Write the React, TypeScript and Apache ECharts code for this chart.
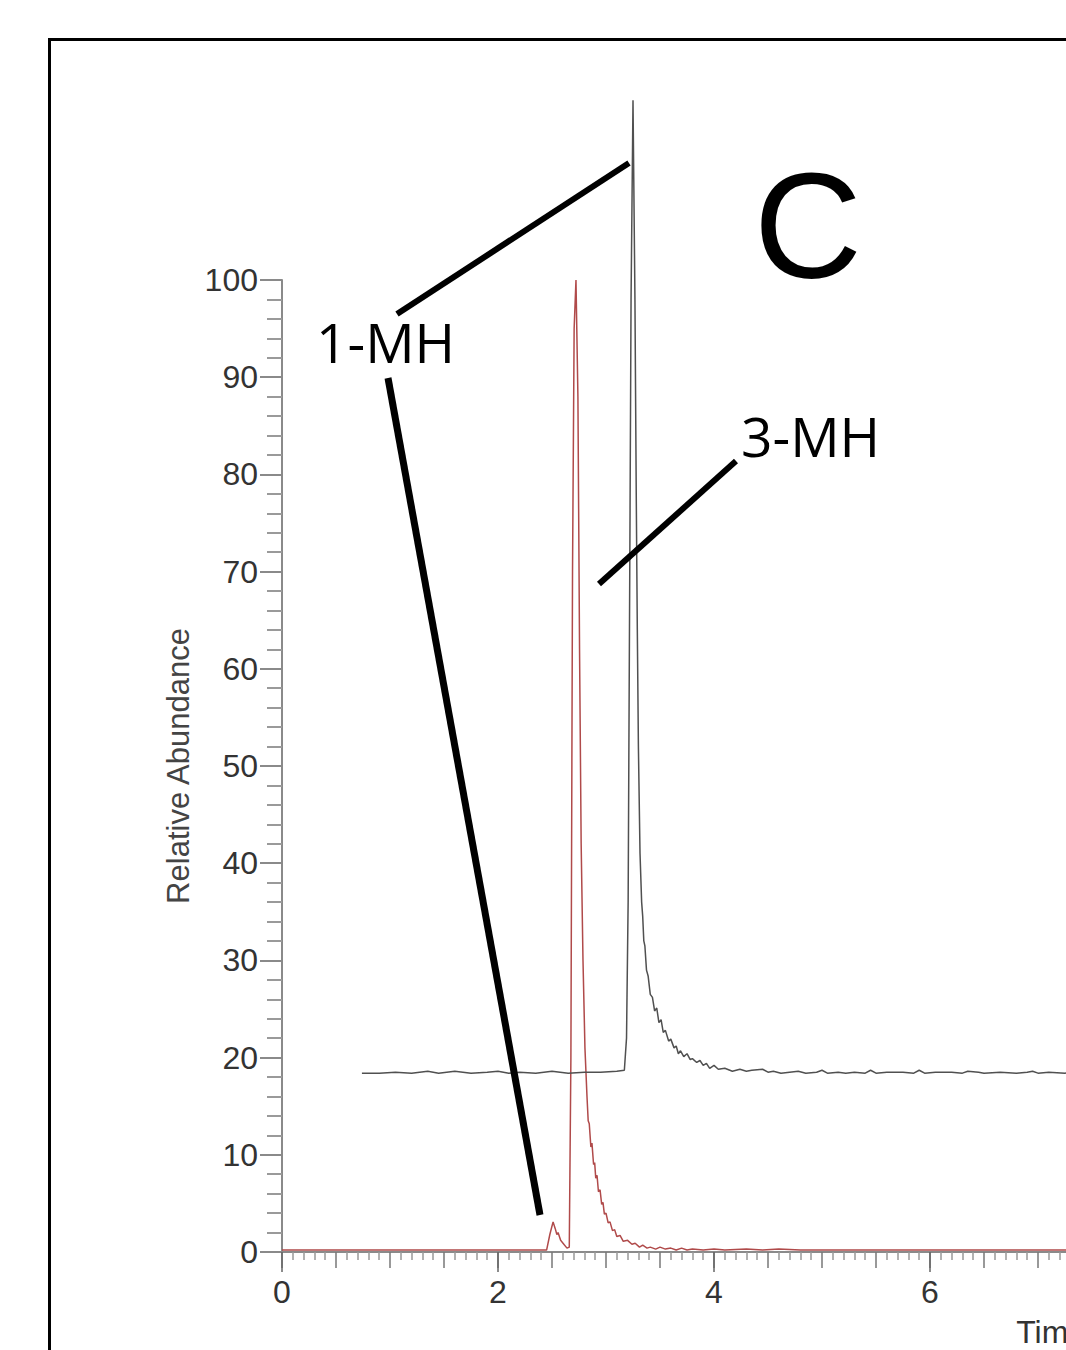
import React, { useEffect, useRef } from "react";
import * as echarts from "echarts";

// 1-MH trace (offset chromatogram): [time (min), relative abundance]
const mh1Trace: [number, number][] = [
  [0.74, 18.4], [0.9, 18.4], [1.05, 18.5], [1.2, 18.4], [1.35, 18.6], [1.45, 18.4],
  [1.6, 18.6], [1.75, 18.4], [1.9, 18.5], [2.0, 18.6], [2.1, 18.4], [2.2, 18.5],
  [2.35, 18.4], [2.5, 18.6], [2.65, 18.4], [2.8, 18.5], [2.95, 18.5], [3.1, 18.6],
  [3.17, 18.7], [3.19, 22], [3.205, 36], [3.22, 70], [3.232, 98], [3.25, 118.5],
  [3.268, 98], [3.28, 78], [3.29, 64], [3.3, 52], [3.315, 41], [3.33, 36],
  [3.34, 34.5], [3.35, 32], [3.36, 31.5], [3.375, 29], [3.39, 28.4], [3.41, 26.5],
  [3.43, 26.2], [3.45, 24.8], [3.47, 25.1], [3.49, 23.6], [3.51, 23.9], [3.53, 22.6],
  [3.55, 22.8], [3.58, 21.7], [3.6, 21.9], [3.63, 21.0], [3.65, 21.2], [3.67, 20.4],
  [3.69, 20.7], [3.72, 20.1], [3.75, 20.4], [3.78, 19.8], [3.8, 19.9], [3.84, 19.5],
  [3.87, 19.7], [3.9, 19.2], [3.93, 19.4], [3.96, 18.9], [4.0, 19.2], [4.04, 18.8],
  [4.1, 18.9], [4.17, 18.6], [4.24, 18.8], [4.3, 18.6], [4.35, 18.7], [4.45, 18.8],
  [4.5, 18.5], [4.55, 18.6], [4.62, 18.4], [4.7, 18.5], [4.78, 18.6], [4.85, 18.4],
  [4.95, 18.5], [5.0, 18.7], [5.05, 18.4], [5.15, 18.5], [5.22, 18.4], [5.3, 18.5],
  [5.4, 18.4], [5.45, 18.7], [5.5, 18.4], [5.6, 18.5], [5.75, 18.5], [5.85, 18.4],
  [5.9, 18.7], [5.95, 18.4], [6.05, 18.5], [6.2, 18.5], [6.3, 18.4], [6.35, 18.6],
  [6.45, 18.5], [6.5, 18.4], [6.65, 18.5], [6.8, 18.4], [6.9, 18.5], [6.95, 18.6],
  [7.0, 18.4], [7.1, 18.5], [7.25, 18.4], [7.4, 18.5], [7.6, 18.5],
];

// 3-MH trace: [time (min), relative abundance]
const mh3Trace: [number, number][] = [
  [0, 0.2], [0.3, 0.2], [0.6, 0.2], [0.9, 0.2], [1.2, 0.2], [1.5, 0.2], [1.8, 0.2],
  [2.1, 0.2], [2.3, 0.2], [2.45, 0.2], [2.48, 1.8], [2.51, 3.1], [2.53, 2.4],
  [2.545, 1.8], [2.556, 2.0], [2.58, 1.2], [2.602, 0.9], [2.639, 0.4], [2.66, 0.5],
  [2.675, 20], [2.69, 70], [2.705, 95], [2.722, 100], [2.74, 88], [2.755, 62],
  [2.77, 42], [2.787, 30], [2.805, 21], [2.824, 16], [2.835, 13.5], [2.845, 13.2],
  [2.86, 10.8], [2.87, 11.2], [2.885, 9.0], [2.895, 9.2], [2.905, 7.6], [2.917, 7.9],
  [2.93, 6.2], [2.945, 6.4], [2.96, 4.9], [2.972, 5.1], [2.985, 3.9], [3.0, 4.0],
  [3.02, 3.0], [3.037, 3.1], [3.06, 2.2], [3.08, 2.3], [3.1, 1.6], [3.13, 1.7],
  [3.16, 1.1], [3.2, 1.2], [3.24, 0.8], [3.27, 0.9], [3.31, 0.5], [3.34, 0.7],
  [3.38, 0.4], [3.41, 0.5], [3.46, 0.3], [3.5, 0.5], [3.55, 0.3], [3.6, 0.4],
  [3.65, 0.2], [3.7, 0.4], [3.75, 0.2], [3.8, 0.3], [3.9, 0.2], [4.0, 0.3],
  [4.1, 0.2], [4.3, 0.3], [4.45, 0.2], [4.6, 0.3], [4.8, 0.2], [5.0, 0.2],
  [5.5, 0.2], [6.0, 0.2], [6.5, 0.2], [7.0, 0.2], [7.6, 0.2],
];

const xMin = 0;
const xMax = 15;
const yMin = 0;
const yMax = 100;

const axisFont = "'Liberation Sans', Arial, sans-serif";
const labelFont = "'Open Sans', 'Noto Sans', sans-serif";

export default function App() {
  const ref = useRef<HTMLDivElement>(null);

  useEffect(() => {
    if (!ref.current) return;
    const chart = echarts.init(ref.current, undefined, { renderer: "svg" });
    const gray = "#8a8a8a";
    chart.setOption({
      animation: false,
      backgroundColor: "#ffffff",
      grid: {
        left: 282,
        top: 280,
        bottom: 98,
        right: -836,
        containLabel: false,
        outerBoundsMode: "none",
      },
      xAxis: [
        {
          type: "value",
          min: xMin,
          max: xMax,
          interval: 0.5,
          position: "bottom",
          axisLine: { show: true, lineStyle: { color: gray, width: 2 } },
          axisTick: { show: true, length: 16, lineStyle: { color: "#777", width: 1.5 } },
          minorTick: { show: true, splitNumber: 5, length: 8, lineStyle: { color: "#999", width: 1.5 } },
          axisLabel: { show: false },
          splitLine: { show: false },
        },
        {
          type: "value",
          min: xMin,
          max: xMax,
          interval: 2,
          position: "bottom",
          axisLine: { show: false },
          axisTick: { show: true, length: 20, lineStyle: { color: "#666", width: 1.5 } },
          axisLabel: { show: true, fontSize: 32, fontFamily: axisFont, color: "#333", margin: 24 },
          splitLine: { show: false },
          name: "Time (min)",
          nameLocation: "middle",
          nameGap: 64,
          nameTextStyle: { fontSize: 32, fontFamily: axisFont, color: "#333" },
        },
      ],
      yAxis: {
        type: "value",
        min: yMin,
        max: yMax,
        interval: 10,
        axisLine: { show: true, lineStyle: { color: gray, width: 2 } },
        axisTick: { show: true, length: 22, lineStyle: { color: gray, width: 2 } },
        minorTick: { show: true, splitNumber: 5, length: 15, lineStyle: { color: "#9a9a9a", width: 2 } },
        axisLabel: { show: true, fontSize: 32, fontFamily: axisFont, color: "#333", margin: 24 },
        splitLine: { show: false },
        name: "Relative Abundance",
        nameLocation: "middle",
        nameRotate: 90,
        nameGap: 84,
        nameTextStyle: { fontSize: 31, fontFamily: axisFont, color: "#444" },
      },
      series: [
        {
          type: "line",
          name: "3-MH",
          data: mh3Trace,
          xAxisIndex: 0,
          showSymbol: false,
          symbol: "none",
          clip: false,
          lineStyle: { color: "#b04a4a", width: 1.5 },
          z: 2,
        },
        {
          type: "line",
          name: "1-MH",
          data: mh1Trace,
          xAxisIndex: 0,
          showSymbol: false,
          symbol: "none",
          clip: false,
          lineStyle: { color: "#505050", width: 1.5 },
          z: 3,
        },
      ],
      graphic: [
        {
          type: "rect",
          shape: { x: 49.5, y: 39.5, width: 1200, height: 1400 },
          style: { fill: "none", stroke: "#000", lineWidth: 3 },
          z: 10,
        },
        {
          type: "line",
          shape: { x1: 397, y1: 314, x2: 629, y2: 163 },
          style: { stroke: "#000", lineWidth: 6 },
          z: 10,
        },
        {
          type: "line",
          shape: { x1: 388, y1: 378, x2: 540, y2: 1215 },
          style: { stroke: "#000", lineWidth: 7 },
          z: 10,
        },
        {
          type: "line",
          shape: { x1: 736, y1: 461, x2: 599, y2: 584 },
          style: { stroke: "#000", lineWidth: 6 },
          z: 10,
        },
        {
          type: "text",
          x: 316,
          y: 341,
          style: {
            text: "1-MH",
            fontSize: 55,
            fontFamily: labelFont,
            fill: "#000",
            textAlign: "left",
            textVerticalAlign: "middle",
          },
          z: 10,
        },
        {
          type: "text",
          x: 741,
          y: 435,
          style: {
            text: "3-MH",
            fontSize: 55,
            fontFamily: labelFont,
            fill: "#000",
            textAlign: "left",
            textVerticalAlign: "middle",
          },
          z: 10,
        },
        {
          type: "text",
          x: 808,
          y: 226,
          style: {
            text: "C",
            fontSize: 150,
            fontFamily: axisFont,
            fill: "#000",
            textAlign: "center",
            textVerticalAlign: "middle",
          },
          z: 10,
        },
      ],
    });
    return () => chart.dispose();
  }, []);

  return (
    <div
      ref={ref}
      style={{ position: "absolute", left: 0, top: 0, width: 1066, height: 1350 }}
    />
  );
}
